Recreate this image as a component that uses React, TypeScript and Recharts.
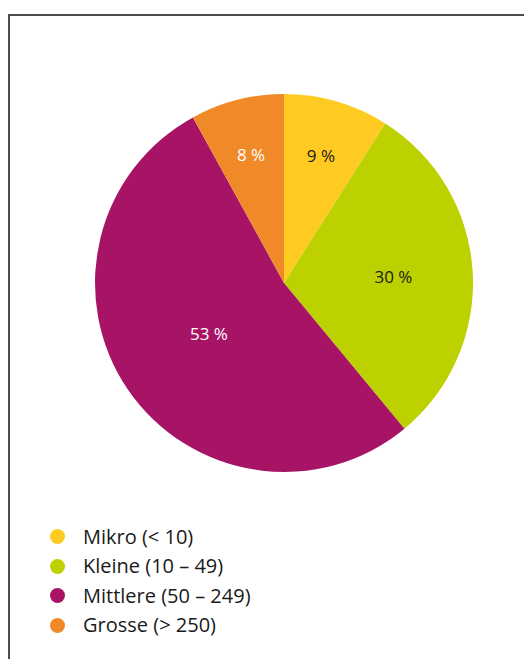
import { PieChart, Pie, Cell, Legend } from 'recharts';

const categories = ['Mikro (< 10)', 'Kleine (10 – 49)', 'Mittlere (50 – 249)', 'Grosse (> 250)'];
const shares = [9, 30, 53, 8];

const colors = ['#FFCB23', '#BDD000', '#A71466', '#F08A28'];
const labelColors = ['#1a1a1a', '#1a1a1a', '#ffffff', '#ffffff'];
// how far out each label sits, as a fraction of the radius
const labelRadius = [0.7, 0.58, 0.48, 0.7];

const FONT = '"Open Sans", "DejaVu Sans", sans-serif';
const RAD = Math.PI / 180;

const data = categories.map((name, i) => ({ name, value: shares[i] }));

const renderLabel = (props: any) => {
  const { cx, cy, midAngle, outerRadius, index, value } = props;
  const r = outerRadius * labelRadius[index];
  const x = cx + r * Math.cos(-midAngle * RAD);
  const y = cy + r * Math.sin(-midAngle * RAD);
  return (
    <text
      x={x}
      y={y}
      fill={labelColors[index]}
      textAnchor="middle"
      dominantBaseline="central"
      fontFamily={FONT}
      fontSize={17}
    >
      {`${value} %`}
    </text>
  );
};

const renderLegend = () => (
  <div style={{ fontFamily: FONT, fontSize: 20, color: '#1a1a1a', lineHeight: 1 }}>
    {categories.map((name, i) => (
      <div key={name} style={{ display: 'flex', alignItems: 'center', height: 29.5 }}>
        <span
          style={{
            display: 'inline-block',
            width: 15,
            height: 15,
            borderRadius: '50%',
            background: colors[i],
            marginRight: 18,
          }}
        />
        <span>{name}</span>
      </div>
    ))}
  </div>
);

export default function App() {
  return (
    <div
      style={{
        position: 'fixed',
        left: 8,
        top: 14,
        width: 516,
        height: 645,
        borderTop: '2px solid #4d4d4d',
        borderLeft: '2px solid #4d4d4d',
        boxSizing: 'border-box',
        background: '#fff',
      }}
    >
      <PieChart width={514} height={643} margin={{ top: 0, right: 0, bottom: 0, left: 0 }}>
        <Pie
          data={data}
          dataKey="value"
          nameKey="name"
          cx={274}
          cy={267}
          outerRadius={189}
          startAngle={90}
          endAngle={-270}
          stroke="none"
          label={renderLabel}
          labelLine={false}
          isAnimationActive={false}
        >
          {data.map((d, i) => (
            <Cell key={d.name} fill={colors[i]} />
          ))}
        </Pie>
        <Legend
          layout="vertical"
          content={renderLegend}
          wrapperStyle={{ position: 'absolute', left: 40, top: 506, width: 320 }}
        />
      </PieChart>
    </div>
  );
}
